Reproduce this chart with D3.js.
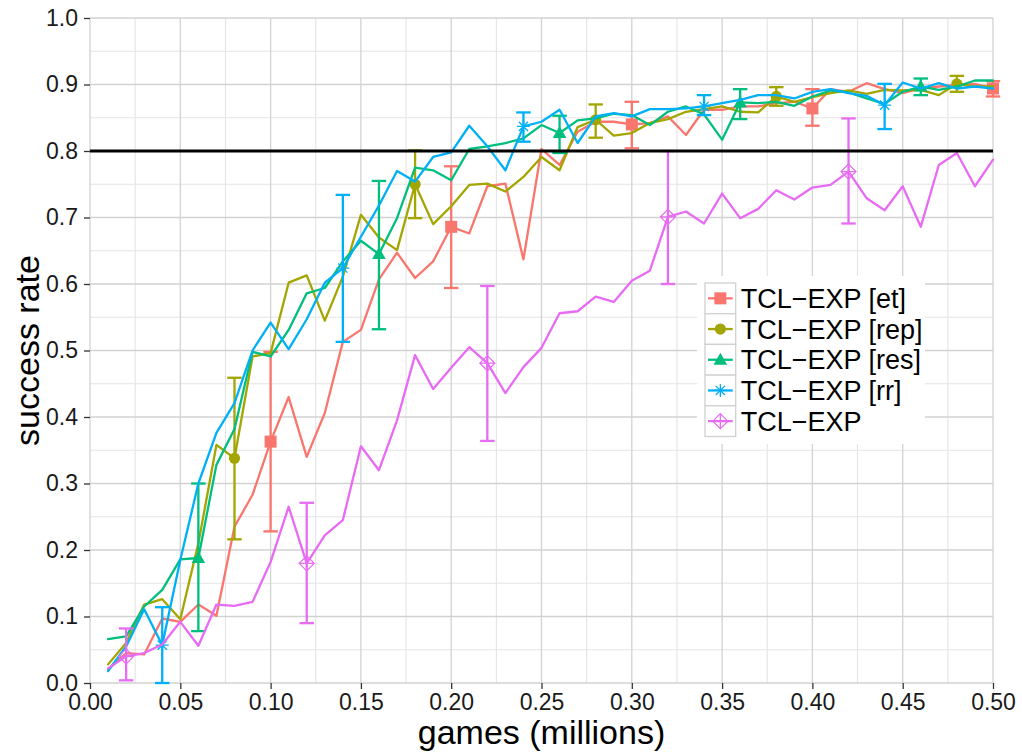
<!DOCTYPE html>
<html>
<head>
<meta charset="utf-8">
<script src="https://cdn.jsdelivr.net/npm/d3@7"></script>
<style>
  html, body { margin: 0; padding: 0; background: #fff; }
  svg { display: block; font-family: "Liberation Sans", Arial, Helvetica, sans-serif; }
</style>
</head>
<body>
<svg id="chart" width="1022" height="753"></svg>
<script>
// games played (millions) at each evaluation point
const games = [0.01,0.02,0.03,0.04,0.05,0.06,0.07,0.08,0.09,0.10,
               0.11,0.12,0.13,0.14,0.15,0.16,0.17,0.18,0.19,0.20,
               0.21,0.22,0.23,0.24,0.25,0.26,0.27,0.28,0.29,0.30,
               0.31,0.32,0.33,0.34,0.35,0.36,0.37,0.38,0.39,0.40,
               0.41,0.42,0.43,0.44,0.45,0.46,0.47,0.48,0.49,0.50];

// success rate per variant
const rateEt  = [0.020,0.045,0.043,0.097,0.092,0.118,0.101,0.235,0.283,0.363,
                 0.430,0.340,0.406,0.513,0.531,0.607,0.647,0.609,0.634,0.686,
                 0.676,0.747,0.751,0.637,0.803,0.779,0.829,0.844,0.844,0.840,
                 0.842,0.852,0.824,0.862,0.862,0.867,0.867,0.872,0.874,0.864,
                 0.893,0.889,0.902,0.893,0.887,0.894,0.897,0.899,0.901,0.894];
const rateRep = [0.028,0.060,0.118,0.126,0.096,0.210,0.358,0.338,0.491,0.496,
                 0.602,0.613,0.545,0.611,0.704,0.670,0.651,0.750,0.690,0.717,
                 0.749,0.751,0.739,0.761,0.791,0.771,0.836,0.847,0.823,0.827,
                 0.842,0.848,0.859,0.863,0.867,0.859,0.858,0.882,0.874,0.881,
                 0.887,0.891,0.886,0.892,0.891,0.892,0.884,0.901,0.897,0.897];
const rateRes = [0.066,0.070,0.115,0.140,0.186,0.188,0.328,0.382,0.498,0.491,
                 0.531,0.586,0.594,0.634,0.665,0.645,0.699,0.775,0.771,0.756,
                 0.803,0.807,0.812,0.819,0.839,0.827,0.846,0.849,0.856,0.854,
                 0.839,0.859,0.867,0.855,0.817,0.873,0.872,0.874,0.868,0.882,
                 0.891,0.888,0.879,0.871,0.889,0.897,0.892,0.897,0.906,0.906];
const rateRr  = [0.018,0.055,0.111,0.057,0.185,0.300,0.376,0.421,0.500,0.542,
                 0.502,0.547,0.602,0.624,0.671,0.718,0.770,0.754,0.791,0.798,
                 0.838,0.807,0.771,0.837,0.844,0.862,0.812,0.852,0.857,0.852,
                 0.863,0.863,0.864,0.867,0.872,0.877,0.884,0.884,0.879,0.889,
                 0.893,0.887,0.883,0.869,0.903,0.894,0.902,0.894,0.897,0.894];
const rateExp = [0.022,0.040,0.045,0.058,0.092,0.056,0.118,0.116,0.122,0.182,
                 0.265,0.180,0.222,0.245,0.356,0.320,0.395,0.493,0.442,0.474,
                 0.505,0.481,0.436,0.475,0.504,0.556,0.559,0.581,0.573,0.605,
                 0.620,0.701,0.709,0.691,0.736,0.699,0.713,0.741,0.727,0.745,
                 0.749,0.769,0.729,0.711,0.747,0.686,0.779,0.797,0.747,0.787];

// error bars: x position, lower and upper bound
const errEtX  = [0.10, 0.20, 0.30, 0.40, 0.50];
const errEtLo = [0.228, 0.594, 0.804, 0.838, 0.882];
const errEtHi = [0.498, 0.777, 0.874, 0.893, 0.905];
const errRepX  = [0.08, 0.18, 0.28, 0.38, 0.48];
const errRepLo = [0.216, 0.699, 0.820, 0.868, 0.889];
const errRepHi = [0.459, 0.801, 0.870, 0.896, 0.913];
const errResX  = [0.06, 0.16, 0.26, 0.36, 0.46];
const errResLo = [0.078, 0.532, 0.797, 0.848, 0.884];
const errResHi = [0.300, 0.755, 0.853, 0.893, 0.909];
const errRrX  = [0.04, 0.14, 0.24, 0.34, 0.44];
const errRrLo = [0.000, 0.513, 0.814, 0.854, 0.833];
const errRrHi = [0.114, 0.734, 0.858, 0.884, 0.901];
const errExpX  = [0.02, 0.12, 0.22, 0.32, 0.42];
const errExpLo = [0.004, 0.090, 0.364, 0.600, 0.691];
const errExpHi = [0.082, 0.271, 0.597, 0.800, 0.849];

const seriesNames = ["TCL\u2212EXP [et]", "TCL\u2212EXP [rep]", "TCL\u2212EXP [res]", "TCL\u2212EXP [rr]", "TCL\u2212EXP"];
const xTicks = [0.00,0.05,0.10,0.15,0.20,0.25,0.30,0.35,0.40,0.45,0.50];
const yTicks = [0.0,0.1,0.2,0.3,0.4,0.5,0.6,0.7,0.8,0.9,1.0];
const target = 0.8;

const colors = ["#F8766D", "#A3A500", "#00BF7D", "#00B0F6", "#E76BF3"];
const shapes = ["square", "circle", "triangle", "asterisk", "diamondplus"];

const series = [
  {name: seriesNames[0], values: rateEt,  ex: errEtX,  lo: errEtLo,  hi: errEtHi},
  {name: seriesNames[1], values: rateRep, ex: errRepX, lo: errRepLo, hi: errRepHi},
  {name: seriesNames[2], values: rateRes, ex: errResX, lo: errResLo, hi: errResHi},
  {name: seriesNames[3], values: rateRr,  ex: errRrX,  lo: errRrLo,  hi: errRrHi},
  {name: seriesNames[4], values: rateExp, ex: errExpX, lo: errExpLo, hi: errExpHi}
].map((s, i) => ({...s, color: colors[i], shape: shapes[i]}));

const svg = d3.select("#chart");
const x = d3.scaleLinear().domain([0, 0.5]).range([90, 993]);
const y = d3.scaleLinear().domain([0, 1]).range([683, 18]);

// panel grid
const grid = svg.append("g");
const minorX = d3.range(0.025, 0.5, 0.05);
const minorY = d3.range(0.05, 1.0, 0.1);
grid.selectAll(".mx").data(minorX).join("line")
  .attr("x1", d => x(d)).attr("x2", d => x(d)).attr("y1", y(0)).attr("y2", y(1))
  .attr("stroke", "#e4e4e4").attr("stroke-width", 1.1);
grid.selectAll(".my").data(minorY).join("line")
  .attr("x1", x(0)).attr("x2", x(0.5)).attr("y1", d => y(d)).attr("y2", d => y(d))
  .attr("stroke", "#e4e4e4").attr("stroke-width", 1.1);
grid.selectAll(".gx").data(xTicks).join("line")
  .attr("x1", d => x(d)).attr("x2", d => x(d)).attr("y1", y(0)).attr("y2", y(1))
  .attr("stroke", "#d2d2d2").attr("stroke-width", 1.3);
grid.selectAll(".gy").data(yTicks).join("line")
  .attr("x1", x(0)).attr("x2", x(0.5)).attr("y1", d => y(d)).attr("y2", d => y(d))
  .attr("stroke", "#d2d2d2").attr("stroke-width", 1.3);

// axes
const xAxis = svg.append("g").attr("transform", `translate(0,${y(0)})`)
  .call(d3.axisBottom(x).tickValues(xTicks).tickFormat(d3.format(".2f")).tickSize(6).tickPadding(5));
const yAxis = svg.append("g").attr("transform", `translate(${x(0)},0)`)
  .call(d3.axisLeft(y).tickValues(yTicks).tickFormat(d3.format(".1f")).tickSize(6).tickPadding(6));
[xAxis, yAxis].forEach(a => {
  a.select(".domain").remove();
  a.selectAll(".tick line").attr("stroke", "#333").attr("stroke-width", 1.3);
  a.selectAll(".tick text").attr("fill", "#1a1a1a").style("font-size", "23px")
    .style("font-family", "'Liberation Sans', Arial, sans-serif");
});

// marker symbols
function drawMarker(g, shape, color, cx, cy) {
  if (shape === "square") {
    g.append("rect").attr("x", cx - 6).attr("y", cy - 6).attr("width", 12).attr("height", 12).attr("fill", color);
  } else if (shape === "circle") {
    g.append("circle").attr("cx", cx).attr("cy", cy).attr("r", 5.6).attr("fill", color);
  } else if (shape === "triangle") {
    g.append("path").attr("d", `M${cx},${cy - 7}L${cx + 6.8},${cy + 5}L${cx - 6.8},${cy + 5}Z`).attr("fill", color);
  } else if (shape === "asterisk") {
    const r = 6.5, d = r * 0.707;
    g.append("path")
      .attr("d", `M${cx - r},${cy}L${cx + r},${cy}M${cx},${cy - r}L${cx},${cy + r}` +
                 `M${cx - d},${cy - d}L${cx + d},${cy + d}M${cx - d},${cy + d}L${cx + d},${cy - d}`)
      .attr("stroke", color).attr("stroke-width", 1.3).attr("fill", "none");
  } else if (shape === "diamondplus") {
    const r = 7.5;
    g.append("path")
      .attr("d", `M${cx},${cy - r}L${cx + r},${cy}L${cx},${cy + r}L${cx - r},${cy}Z` +
                 `M${cx - r},${cy}L${cx + r},${cy}M${cx},${cy - r}L${cx},${cy + r}`)
      .attr("stroke", color).attr("stroke-width", 1.2).attr("fill", "none");
  }
}

const line = d3.line().x((d, i) => x(games[i])).y(d => y(d));
const capHalf = 0.004;

const plot = svg.append("g");
series.forEach(s => {
  const g = plot.append("g");
  g.append("path").datum(s.values).attr("d", line)
    .attr("fill", "none").attr("stroke", s.color).attr("stroke-width", 2.3)
    .attr("stroke-linejoin", "round").attr("stroke-linecap", "round");
  s.ex.forEach((ex, k) => {
    const eb = g.append("g").attr("stroke", s.color).attr("stroke-width", 2.3).attr("fill", "none");
    eb.append("line").attr("x1", x(ex)).attr("x2", x(ex)).attr("y1", y(s.lo[k])).attr("y2", y(s.hi[k]));
    eb.append("line").attr("x1", x(ex - capHalf)).attr("x2", x(ex + capHalf)).attr("y1", y(s.lo[k])).attr("y2", y(s.lo[k]));
    eb.append("line").attr("x1", x(ex - capHalf)).attr("x2", x(ex + capHalf)).attr("y1", y(s.hi[k])).attr("y2", y(s.hi[k]));
    const idx = games.findIndex(v => Math.abs(v - ex) < 1e-9);
    drawMarker(g, s.shape, s.color, x(ex), y(s.values[idx]));
  });
});

// target success rate
svg.append("line").attr("x1", x(0)).attr("x2", x(0.5)).attr("y1", y(target)).attr("y2", y(target))
  .attr("stroke", "#000").attr("stroke-width", 2.8);

// axis titles
svg.append("text").attr("x", (x(0) + x(0.5)) / 2).attr("y", 744).attr("text-anchor", "middle")
  .style("font-size", "34px").attr("fill", "#000").text("games (millions)");
svg.append("text").attr("transform", `translate(39,${(y(0) + y(1)) / 2}) rotate(-90)`).attr("text-anchor", "middle")
  .style("font-size", "34px").attr("fill", "#000").text("success rate");

// legend
const lg = svg.append("g");
const keySize = 30.7, keyX = 705, keyY = 283;
lg.append("rect").attr("x", 697).attr("y", 276).attr("width", 228).attr("height", 168).attr("fill", "#fff");
series.forEach((s, i) => {
  const ky = keyY + i * keySize;
  lg.append("rect").attr("x", keyX).attr("y", ky).attr("width", keySize).attr("height", keySize)
    .attr("fill", "#fff").attr("stroke", "#d0d0d0").attr("stroke-width", 1.3);
  const cx = keyX + keySize / 2, cy = ky + keySize / 2;
  lg.append("line").attr("x1", keyX + 3).attr("x2", keyX + keySize - 3).attr("y1", cy).attr("y2", cy)
    .attr("stroke", s.color).attr("stroke-width", 2.3);
  drawMarker(lg, s.shape, s.color, cx, cy);
  lg.append("text").attr("x", keyX + keySize + 5).attr("y", cy).attr("dy", "0.36em")
    .style("font-size", "27px").attr("fill", "#000").text(s.name);
});
</script>
</body>
</html>
